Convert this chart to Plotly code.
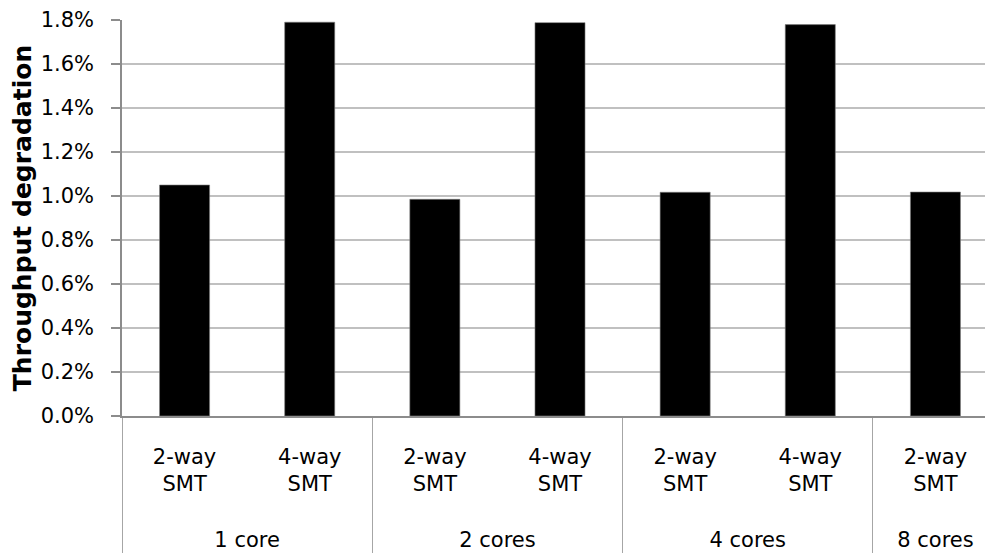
import plotly.graph_objects as go

groups = ["1 core", "1 core", "2 cores", "2 cores", "4 cores", "4 cores", "8 cores"]
smt_kind = ["2-way", "4-way", "2-way", "4-way", "2-way", "4-way", "2-way"]
degradation = [1.05, 1.79, 0.985, 1.788, 1.017, 1.779, 1.018]
y_ticks = [0.0, 0.2, 0.4, 0.6, 0.8, 1.0, 1.2, 1.4, 1.6, 1.8]

FONT = "DejaVu Sans"
# inner labels: two text lines plus invisible spacer lines that push the group row down
SPACER = "<span style='font-size:6px;color:rgba(0,0,0,0)'>.</span>"
smt_labels = [f"{k}<br>SMT<br>{SPACER}<br>{SPACER}" for k in smt_kind]

fig = go.Figure()
fig.add_trace(go.Bar(
    x=[groups, smt_labels],
    y=degradation,
    marker=dict(color="#000000", line=dict(color="#7f7f7f", width=0.6)),
    width=0.4,
))

# the page body has an 8px margin, so the figure is sized to end at the window edge
fig.update_layout(
    width=985, height=548,
    margin=dict(l=114, r=0, t=12, b=140),
    paper_bgcolor="white", plot_bgcolor="white",
    showlegend=False,
    font=dict(family=FONT, size=21, color="#000000"),
)
fig.update_xaxes(
    type="multicategory",
    range=[-0.5, 6.46],
    automargin=False,
    showline=True, linecolor="#8c8c8c", linewidth=1.5,
    showdividers=True, dividercolor="#a6a6a6", dividerwidth=1,
    ticks="", tickfont=dict(family=FONT, size=21, color="#000000"),
    ticklabelstandoff=21,
    showgrid=False,
)
fig.update_yaxes(
    range=[0, 1.8],
    automargin=False,
    tickvals=y_ticks,
    ticktext=[f"{v:.1f}%" for v in y_ticks],
    showgrid=True, gridcolor="#c0c0c0", gridwidth=1.5,
    showline=True, linecolor="#8c8c8c", linewidth=1.5,
    ticks="outside", ticklen=9, tickcolor="#8c8c8c", tickwidth=1.5,
    ticklabelstandoff=13,
    tickfont=dict(family=FONT, size=21, color="#000000"),
    title=dict(text="<b>Throughput degradation</b>", font=dict(family=FONT, size=25, color="#000000"), standoff=4),
    zeroline=False,
)

fig.write_html("out.html")
